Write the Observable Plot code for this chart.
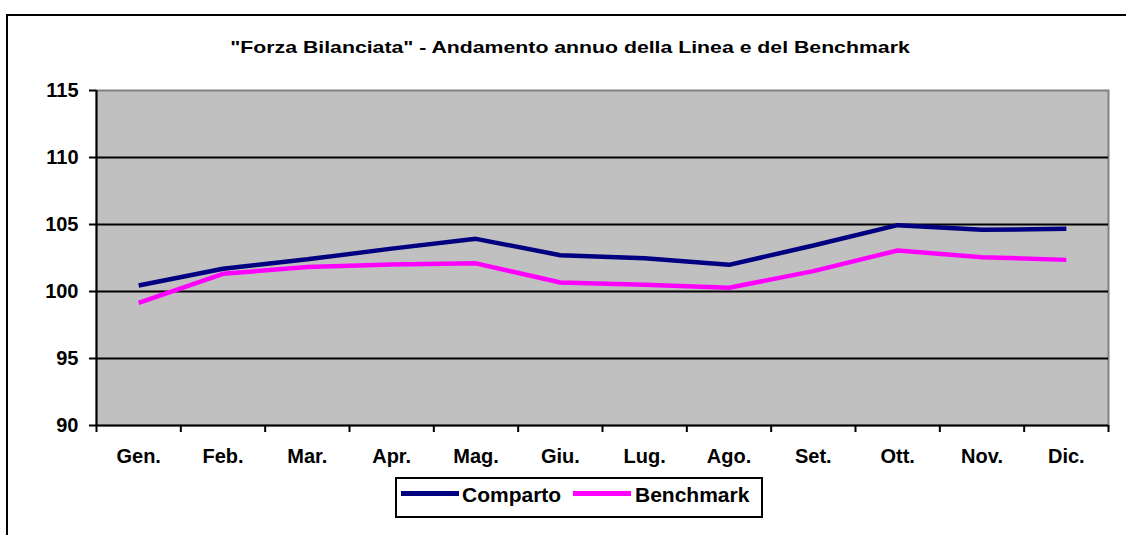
<!DOCTYPE html>
<html>
<head>
<meta charset="utf-8">
<script src="https://cdn.jsdelivr.net/npm/d3@7"></script>
<script src="https://cdn.jsdelivr.net/npm/@observablehq/plot@0.6"></script>
<style>
  html, body { margin: 0; padding: 0; background: #fff; }
  #wrap { position: relative; width: 1126px; height: 535px; overflow: hidden; background: #fff;
          font-family: "Liberation Sans", Arial, sans-serif; font-weight: bold; color: #000; }
  #outer { position: absolute; left: 6px; top: 14px; width: 1200px; height: 600px;
           border-left: 2px solid #000; border-top: 2px solid #000; }
  #chart { position: absolute; left: 0; top: 0; }
  #title { position: absolute; left: 0; width: 1140px; top: 38.5px; text-align: center;
           font-size: 17px; line-height: 17px; white-space: nowrap;
           transform: scaleX(1.25); transform-origin: 570px 50%; }
  #legend { position: absolute; left: 395px; top: 477px; width: 368px; height: 41px;
            box-sizing: border-box; border: 2px solid #000; background: #fff; }
  .sw { position: absolute; height: 5px; width: 58px; top: 491px; }
  .lt { position: absolute; top: 484px; font-size: 21px; line-height: 21px; white-space: nowrap; }
</style>
</head>
<body>
<div id="wrap">
  <div id="outer"></div>
  <div id="chart"></div>
  <div id="title"></div>
  <div id="legend"></div>
  <div class="sw" id="sw0" style="left:401px"></div>
  <div class="lt" id="lt0" style="left:462px"></div>
  <div class="sw" id="sw1" style="left:573px"></div>
  <div class="lt" id="lt1" style="left:635px"></div>
</div>
<script>
const titleText = "\"Forza Bilanciata\" - Andamento annuo della Linea e del Benchmark";
const months = ["Gen.", "Feb.", "Mar.", "Apr.", "Mag.", "Giu.", "Lug.", "Ago.", "Set.", "Ott.", "Nov.", "Dic."];
const seriesNames = ["Comparto", "Benchmark"];
const seriesColors = ["#000080", "#FF00FF"];
const comparto  = [100.45, 101.7, 102.4, 103.2, 103.93, 102.71, 102.49, 101.99, 103.43, 104.95, 104.6, 104.68];
const benchmark = [99.16, 101.32, 101.82, 102.01, 102.1, 100.67, 100.5, 100.28, 101.52, 103.06, 102.56, 102.36];
const yTicks = [90, 95, 100, 105, 110, 115];
const gridValues = [95, 100, 105, 110];

const rows = [];
[comparto, benchmark].forEach((vals, s) => {
  vals.forEach((v, i) => rows.push({month: months[i], i, series: seriesNames[s], value: v}));
});

const chart = Plot.plot({
  width: 1126,
  height: 535,
  marginLeft: 96,
  marginRight: 18,
  marginTop: 90,
  marginBottom: 110,
  style: {
    fontFamily: "'Liberation Sans', Arial, sans-serif",
    fontWeight: "bold",
    fontSize: "20px",
    background: "transparent",
    color: "#000",
    overflow: "visible"
  },
  x: {type: "linear", domain: [0, months.length]},
  y: {domain: [90, 115]},
  color: {domain: seriesNames, range: seriesColors},
  marks: [
    Plot.frame({fill: "#C0C0C0", stroke: "#808080", strokeWidth: 2}),
    Plot.ruleY(gridValues, {stroke: "#000", strokeWidth: 2}),
    Plot.ruleY([90], {stroke: "#000", strokeWidth: 2}),
    Plot.ruleX([0], {stroke: "#000", strokeWidth: 2}),
    Plot.axisY({ticks: yTicks, tickSize: 7, tickPadding: 11, strokeWidth: 2, label: null, fontSize: 20}),
    Plot.axisX({ticks: d3.range(months.length + 1), tickSize: 7, tickFormat: () => "", strokeWidth: 2, label: null}),
    Plot.axisX({ticks: months.map((m, i) => i + 0.5), tickSize: 0, tickPadding: 23,
                tickFormat: v => months[Math.round(v - 0.5)], label: null, fontSize: 20}),
    Plot.line(rows, {x: d => d.i + 0.5, y: "value", z: "series", stroke: "series",
                     strokeWidth: 4.5, strokeLinejoin: "miter", strokeLinecap: "butt"})
  ]
});
document.getElementById("chart").appendChild(chart);
document.getElementById("title").textContent = titleText;
document.getElementById("sw0").style.background = seriesColors[0];
document.getElementById("sw1").style.background = seriesColors[1];
document.getElementById("lt0").textContent = seriesNames[0];
document.getElementById("lt1").textContent = seriesNames[1];
</script>
</body>
</html>
